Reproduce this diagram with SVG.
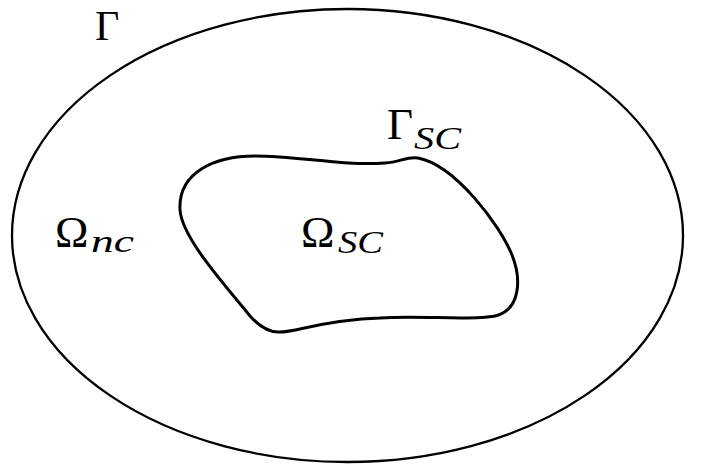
<svg xmlns="http://www.w3.org/2000/svg" width="701" height="470" viewBox="0 0 701 470">
<style>
.o{fill:none;stroke:#000;stroke-width:2.3}
.b{fill:none;stroke:#000;stroke-width:3}
.t{font-family:"Liberation Serif","DejaVu Serif",serif;font-size:45px;fill:#000}
.s{font-family:"Liberation Serif","DejaVu Serif",serif;font-size:32px;font-style:italic;fill:#000}
</style>
<rect width="701" height="470" fill="#fff"/>
<g id="outer">
<ellipse class="o" cx="347.5" cy="235.5" rx="335.5" ry="226.5"/>
<text class="t" x="95" y="40" style="font-size:42px">Γ</text>
</g>
<g id="inner">
<path class="b" d="M 180,210 C 178,172 215,156 255,156 C 300,156 340,166 385,163 C 400,162 408,156 418,158 C 455,165 500,225 512,255 C 522,280 520,310 495,316 C 470,321 420,315 380,318 C 320,320 295,333 278,332 C 268,332 258,325 250,316 C 225,285 182,238 180,210 Z"/>
<text class="t" x="387" y="139">Γ</text>
<text class="s" x="414" y="149" textLength="47" lengthAdjust="spacingAndGlyphs">SC</text>
<text class="t" x="301" y="247">Ω</text>
<text class="s" x="338" y="253" textLength="45" lengthAdjust="spacingAndGlyphs">SC</text>
</g>
<g id="omega_nc">
<text class="t" x="55" y="247">Ω</text>
<text class="s" x="91" y="252" textLength="43" lengthAdjust="spacingAndGlyphs">nc</text>
</g>
</svg>
